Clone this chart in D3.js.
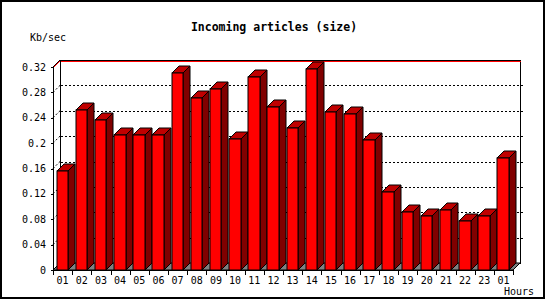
<!DOCTYPE html>
<html>
<head>
<meta charset="utf-8">
<script src="https://cdn.jsdelivr.net/npm/d3@7"></script>
<style>
  body { margin: 0; background: #fff; }
  svg text { font-family: "DejaVu Sans Mono", "Liberation Mono", monospace; fill: #000; }
</style>
</head>
<body>
<div id="chart"></div>
<script>
// ---------- data ----------
const hours = ["01","02","03","04","05","06","07","08","09","10","11","12",
               "13","14","15","16","17","18","19","20","21","22","23","01"];
const kbsec = [0.156, 0.253, 0.236, 0.213, 0.213, 0.213, 0.311, 0.271, 0.286, 0.206, 0.304, 0.257,
               0.224, 0.317, 0.249, 0.246, 0.205, 0.123, 0.092, 0.085, 0.094, 0.077, 0.085, 0.176];
const yTicks = [0, 0.04, 0.08, 0.12, 0.16, 0.2, 0.24, 0.28, 0.32];

const W = 550, H = 300;
const depth = 7;                       // 3d offset
const x0 = 53, x1 = 513, yBase = 270, yTop = 67;

const svg = d3.select("#chart").append("svg")
  .attr("width", W).attr("height", H)
  .attr("shape-rendering", "crispEdges");

const x = d3.scaleBand().domain(d3.range(hours.length)).range([x0, x1]).padding(0);
const y = d3.scaleLinear().domain([0, 0.32]).range([yBase, yTop]);
const barOff = 3.5, barW = 11.5;

const r = v => Math.round(v) + 0.5;

// outer frame
svg.append("rect")
  .attr("x", 1).attr("y", 1).attr("width", 543).attr("height", 297)
  .attr("fill", "#fff").attr("stroke", "#000").attr("stroke-width", 2);

// title + labels
svg.append("text").attr("x", 274).attr("y", 31)
  .attr("text-anchor", "middle").attr("font-weight", "bold").attr("font-size", 11.5)
  .text("Incoming articles (size)");
svg.append("text").attr("x", 30).attr("y", 41).attr("font-size", 10).text("Kb/sec");
svg.append("text").attr("x", 504).attr("y", 295).attr("font-size", 10).text("Hours");

// back wall
const bx0 = x0 + depth, bx1 = x1 + depth;
const by = v => y(v) - depth;
svg.append("path")
  .attr("d", `M${r(bx0)},${r(by(0))}V${r(by(0.32))}H${r(bx1)}V${r(by(0))}`)
  .attr("fill", "#fff").attr("stroke", "#000");

// grid lines (dotted) on the back wall
const grid = svg.append("g").attr("stroke", "#000").attr("stroke-dasharray", "2,2").attr("fill", "none");
yTicks.filter(t => t > 0 && t < 0.32).forEach(t => {
  grid.append("path").attr("d", `M${r(bx0)},${r(by(t))}H${r(bx1) + 2}`);
  grid.append("line").attr("shape-rendering", "auto")
    .attr("x1", x0).attr("y1", y(t)).attr("x2", bx0).attr("y2", by(t));
});

// red max line just under the top edge
svg.append("path")
  .attr("d", `M${r(bx0)},${r(by(0.32)) + 1}H${r(bx1)}`)
  .attr("fill", "none").attr("stroke", "#f00");
svg.append("line").attr("shape-rendering", "auto").attr("stroke", "#f00")
  .attr("x1", x0).attr("y1", y(0.32) + 1).attr("x2", bx0).attr("y2", by(0.32) + 1);
svg.append("line").attr("shape-rendering", "auto").attr("stroke", "#000")
  .attr("x1", x0).attr("y1", y(0.32)).attr("x2", bx0).attr("y2", by(0.32));

// floor
svg.append("path")
  .attr("d", `M${x0},${yBase}H${x1}L${bx1},${by(0)}H${bx0}Z`)
  .attr("fill", "#808080").attr("stroke", "#000").attr("shape-rendering", "auto");

// front axes
svg.append("path")
  .attr("d", `M${r(x0)},${r(y(0.32))}V${r(yBase)}H${r(x1)}`)
  .attr("fill", "none").attr("stroke", "#000");

// y ticks + labels
const yt = svg.append("g");
yTicks.forEach(t => {
  yt.append("path").attr("d", `M${r(x0) - 3},${r(y(t))}H${r(x0)}`).attr("stroke", "#000");
  yt.append("text").attr("x", 46).attr("y", y(t)).attr("dy", "0.35em")
    .attr("text-anchor", "end").attr("font-size", 10).text(d3.format("~g")(t));
});

// x ticks + labels
const xt = svg.append("g");
d3.range(hours.length + 1).forEach(i => {
  const xx = x0 + i * x.step();
  xt.append("path").attr("d", `M${r(xx)},${r(yBase)}V${r(yBase) + 4}`).attr("stroke", "#000");
});
hours.forEach((h, i) => {
  xt.append("text").attr("x", x(i) + x.bandwidth() / 2).attr("y", 284)
    .attr("text-anchor", "middle").attr("font-size", 10).text(h);
});

// bars
const bars = svg.append("g").attr("stroke", "#000").attr("shape-rendering", "auto");
kbsec.forEach((v, i) => {
  const L = Math.round(x(i) + barOff), R = Math.round(x(i) + barOff + barW);
  const T = Math.round(y(v)), B = Math.round(yBase);
  const g = bars.append("g");
  g.append("path") // side
    .attr("d", `M${R},${T}L${R + depth},${T - depth}V${B - depth}L${R},${B}Z`)
    .attr("fill", "#800000");
  g.append("path") // top
    .attr("d", `M${L},${T}L${L + depth},${T - depth}H${R + depth}L${R},${T}Z`)
    .attr("fill", "#c00000");
  g.append("rect") // front
    .attr("x", L).attr("y", T).attr("width", R - L).attr("height", B - T)
    .attr("fill", "#ff0000");
});
</script>
</body>
</html>
